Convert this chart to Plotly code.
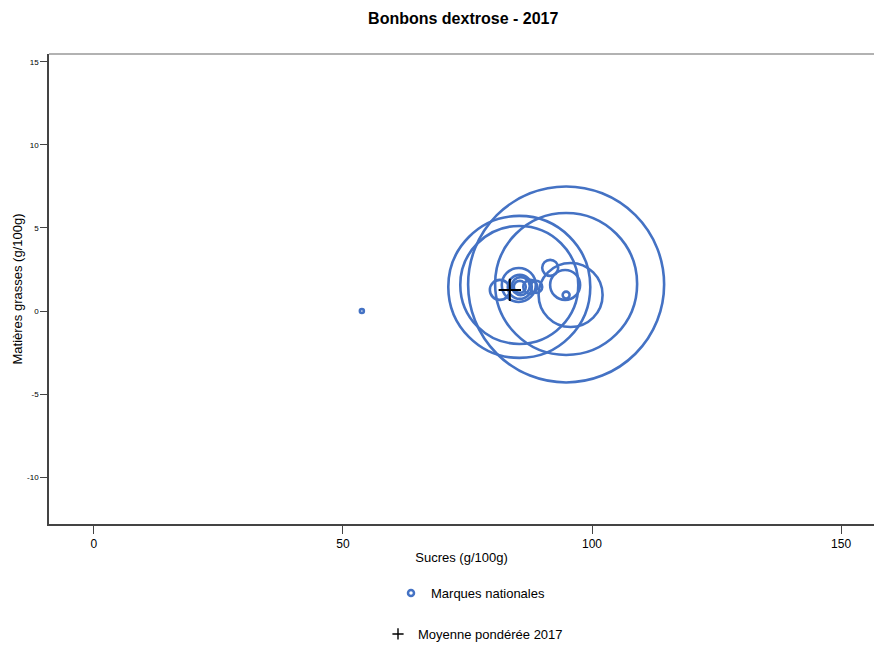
import plotly.graph_objects as go

# Data: sugars (x), fats (y), weight (bubble size) for national brands
sucres = [94.8, 85.4, 85.4, 94.8, 95.7, 94.6, 94.8, 91.6, 85.3, 85.5, 85.7, 85.5, 81.5, 87.6, 88.8, 53.8]
graisses = [1.60, 1.45, 1.57, 1.63, 0.96, 1.57, 0.96, 2.60, 1.57, 1.45, 1.50, 1.45, 1.27, 1.45, 1.45, 0.0]
poids = [9604, 5041, 3481, 5041, 1024, 225, 12, 64, 289, 144, 81, 36, 100, 49, 36, 4]

moy_x = [83.5]
moy_y = [1.27]

x_ticks = [0, 50, 100, 150]
y_ticks = [-10, -5, 0, 5, 10, 15]
y_tick_labels = ["-10", "-5", "0", "5", "10", "15"]

BLUE = "#4472C4"
FONT = "Liberation Sans, Arial, sans-serif"

W, H = 874, 645
ML, MT, MB = 49, 54, 121
PW, PH = W - ML, H - MT - MB

fig = go.Figure()

fig.add_trace(go.Scatter(
    x=sucres, y=graisses, mode="markers",
    marker=dict(size=poids, sizemode="area", sizeref=0.5, sizemin=1, opacity=1,
                color="rgba(0,0,0,0)", line=dict(color=BLUE, width=2.6)),
    showlegend=False, hoverinfo="x+y",
))
fig.add_trace(go.Scatter(
    x=moy_x, y=moy_y, mode="markers",
    marker=dict(symbol="cross-thin", size=16, line=dict(color="black", width=2)),
    showlegend=False,
))
# legend entries
fig.add_trace(go.Scatter(
    x=[None], y=[None], mode="markers", name="Marques nationales",
    marker=dict(symbol="circle-open", size=6, color=BLUE, line=dict(color=BLUE, width=2.5)),
    legend="legend",
))
fig.add_trace(go.Scatter(
    x=[None], y=[None], mode="markers", name="Moyenne pondérée 2017",
    marker=dict(symbol="cross-thin", size=8, line=dict(color="black", width=1.4)),
    legend="legend2",
))

fig.update_layout(
    width=W, height=H,
    margin=dict(l=ML, r=0, t=MT, b=MB, autoexpand=False),
    paper_bgcolor="white", plot_bgcolor="white",
    font=dict(family=FONT, color="black", size=12),
    title=dict(text="<b>Bonbons dextrose - 2017</b>", x=0.53, xanchor="center",
               y=1 - 18 / H, yanchor="middle", yref="container",
               font=dict(size=16, family=FONT, color="black")),
    xaxis=dict(range=[-9, 156.6], tickvals=x_ticks, ticks="outside", ticklen=8,
               tickcolor="#444", tickwidth=1, showgrid=False, zeroline=False,
               showline=True, linecolor="#444", linewidth=1.5, automargin=False,
               tickfont=dict(size=12), title=dict(text="Sucres (g/100g)", font=dict(size=13), standoff=3)),
    yaxis=dict(range=[-12.83, 15.48], tickvals=y_ticks, ticktext=y_tick_labels, ticks="outside", ticklen=7,
               tickcolor="#444", tickwidth=1, showgrid=False, zeroline=False,
               showline=True, linecolor="#444", linewidth=1.5, automargin=False,
               tickfont=dict(size=8), title=dict(text="Matières grasses (g/100g)", font=dict(size=13), standoff=2)),
    legend=dict(x=(391 - ML) / PW, xanchor="left", y=(MT + PH - 593) / PH, yanchor="middle",
                bgcolor="rgba(0,0,0,0)", font=dict(size=13)),
    legend2=dict(x=(378 - ML) / PW, xanchor="left", y=(MT + PH - 634) / PH, yanchor="middle",
                 bgcolor="rgba(0,0,0,0)", font=dict(size=13)),
    shapes=[dict(type="line", xref="paper", yref="paper", x0=0, x1=1, y0=1, y1=1,
                 line=dict(color="#999", width=1.5))],
)

fig.write_html("out.html", config={"displayModeBar": False},
               post_script="document.body.style.margin='0';")
